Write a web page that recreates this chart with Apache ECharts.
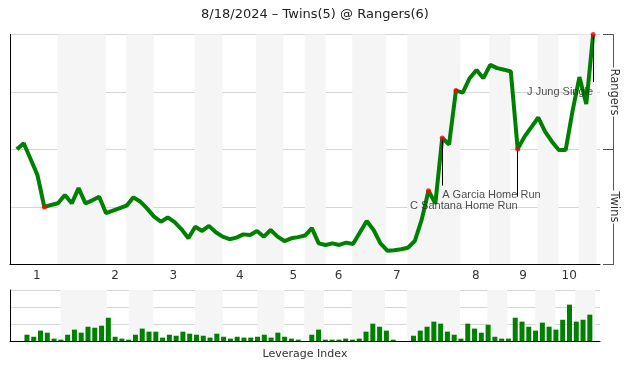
<!DOCTYPE html>
<html><head><meta charset="utf-8">
<script src="https://cdn.jsdelivr.net/npm/echarts@6/dist/echarts.min.js"></script>
<style>html,body{margin:0;padding:0;background:#fff}#c{width:630px;height:380px}</style>
</head><body><div id="c"></div>
<script>
// ---------- data ----------
const chartTitle = '8/18/2024 \u2013 Twins(5) @ Rangers(6)';

// Rangers win probability (%) after each play (index 0 = game start)
const winProb = [
  50.1, 52.7, 45.9, 38.9, 25.0, 25.9, 26.6, 30.2, 26.6, 33.2,
  26.6, 27.9, 29.5, 22.3, 23.4, 24.5, 25.6, 29.2, 27.3, 24.3,
  20.8, 18.6, 20.5, 18.4, 15.3, 11.4, 16.4, 14.6, 16.8, 14.0,
  12.1, 11.0, 11.7, 13.1, 12.8, 14.6, 12.1, 15.0, 12.1, 10.2,
  11.4, 11.9, 12.6, 15.8, 9.2, 8.5, 9.2, 8.5, 9.5, 8.9,
  13.9, 18.9, 15.0, 9.2, 6.0, 6.2, 6.6, 7.3, 10.2, 19.4,
  32.1, 26.5, 55.0, 52.2, 75.6, 74.7, 81.0, 84.6, 81.0, 86.8,
  85.4, 84.7, 83.9, 50.2, 55.6, 59.7, 63.9, 57.8, 53.4, 49.8,
  49.8, 66.8, 81.5, 69.8, 100
];

// Leverage index of each play (plays 1..84)
const leverage = [
  0.37, 0.25, 0.61, 0.49, 0.14, 0.08, 0.37, 0.67, 0.49, 0.84,
  0.78, 0.90, 1.37, 0.25, 0.14, 0.08, 0.37, 0.73, 0.55, 0.55,
  0.20, 0.37, 0.31, 0.55, 0.43, 0.37, 0.31, 0.20, 0.43, 0.25,
  0.14, 0.25, 0.20, 0.20, 0.25, 0.37, 0.20, 0.49, 0.25, 0.14,
  0.08, 0.00, 0.37, 0.67, 0.08, 0.08, 0.08, 0.14, 0.08, 0.14,
  0.55, 1.02, 0.84, 0.61, 0.08, 0.00, 0.00, 0.31, 0.61, 0.84,
  1.14, 1.02, 0.55, 0.37, 0.14, 1.02, 0.73, 0.49, 0.96, 0.25,
  0.14, 0.14, 1.37, 1.14, 0.84, 0.61, 1.08, 0.84, 0.67, 1.25,
  2.14, 1.14, 1.25, 1.55
];

const scoringPlays = [4, 60, 62, 64, 73, 84];

const annotationPlays = [62, 73, 84];
const annotationTexts = ['A Garcia Home Run', 'C Santana Home Run', 'J Jung Single'];
const annotationAlign = ['left', 'right', 'right'];

const inningLabels = ['1', '2', '3', '4', '5', '6', '7', '8', '9', '10'];
const inningLabelPos = [2.9, 14.3, 22.8, 32.5, 40.3, 46.9, 55.4, 66.9, 73.8, 80.5];

// bottom halves of innings (shaded), in play units of the top chart
const bottomHalfStart = [5.92, 15.95, 25.92, 34.86, 41.96, 48.89, 56.91, 68.86, 75.92, 81.89];
const bottomHalfEnd   = [12.95, 19.93, 29.95, 38.84, 45.02, 53.85, 64.64, 71.88, 78.92, 84.52];
// same, in the units of the leverage chart
const levHalfStart = [6.45, 16.5, 26.28, 35.46, 42.39, 49.38, 57.49, 69.38, 76.45, 82.35];
const levHalfEnd   = [13.26, 20.13, 30.36, 39.45, 45.30, 54.29, 65.35, 72.33, 79.40, 85.30];

const sideLabels = ['Twins', 'Rangers'];
const sideLabelPos = [25, 75];
const sideTickPos = [0, 50, 100];

// ---------- chart ----------
const FONT = 'DejaVu Sans';
const annLen = 20.7;
const bandColor = '#f5f5f5';
const gridColor = '#d6d6d6';

const topBands = bottomHalfStart.map((s, i) => [{ xAxis: s }, { xAxis: bottomHalfEnd[i] }]);
const levBands = levHalfStart.map((s, i) => [{ xAxis: s }, { xAxis: levHalfEnd[i] }]);

const chart = echarts.init(document.getElementById('c'), null, { renderer: 'canvas' });
chart.setOption({
  animation: false,
  backgroundColor: '#fff',
  title: {
    text: chartTitle, left: 'center', top: 8, padding: 0,
    textStyle: { fontFamily: FONT, fontSize: 13, fontWeight: 'normal', color: '#222' }
  },
  grid: [
    { left: 10, right: 30, top: 34.5, height: 230 },
    { left: 10, right: 30, top: 290, height: 51 }
  ],
  xAxis: [
    {
      type: 'value', gridIndex: 0, min: -1, max: 85,
      axisLine: { show: true, onZero: false, lineStyle: { color: '#000', width: 1 } },
      axisTick: { show: false }, splitLine: { show: false },
      axisLabel: {
        customValues: inningLabelPos,
        formatter: v => inningLabels[inningLabelPos.indexOf(v)] || '',
        fontFamily: FONT, fontSize: 12, color: '#333', margin: 5
      }
    },
    {
      type: 'value', gridIndex: 1, min: -1, max: 86,
      axisLine: { show: true, onZero: false, lineStyle: { color: '#000', width: 1 } },
      axisTick: { show: false }, splitLine: { show: false }, axisLabel: { show: false },
      name: 'Leverage Index', nameLocation: 'middle', nameGap: 8,
      nameTextStyle: { fontFamily: FONT, fontSize: 11, color: '#333' }
    }
  ],
  yAxis: [
    {
      type: 'value', gridIndex: 0, min: 0, max: 100, interval: 25,
      axisLine: { show: true, onZero: false, lineStyle: { color: '#000', width: 1 } },
      axisTick: { show: false }, axisLabel: { show: false },
      splitLine: { show: true, lineStyle: { color: gridColor, width: 1 } }
    },
    {
      type: 'value', gridIndex: 0, min: 0, max: 100, position: 'right', offset: 13,
      axisLine: { show: true, onZero: false, lineStyle: { color: '#555', width: 1 } },
      axisTick: { show: true, inside: true, length: 10, customValues: sideTickPos, lineStyle: { color: '#555' } },
      splitLine: { show: false },
      axisLabel: {
        customValues: sideLabelPos,
        formatter: v => sideLabels[sideLabelPos.indexOf(v)] || '',
        rotate: -90, margin: -6,
        fontFamily: FONT, fontSize: 11.5, color: '#333',
        backgroundColor: '#fff', padding: [1, 1]
      }
    },
    {
      type: 'value', gridIndex: 1, min: 0, max: 3, interval: 1,
      axisLine: { show: true, onZero: false, lineStyle: { color: '#000', width: 1 } },
      axisTick: { show: false }, axisLabel: { show: false },
      splitLine: { show: true, lineStyle: { color: gridColor, width: 1 } }
    }
  ],
  series: [
    {
      name: 'Win Probability', type: 'line', xAxisIndex: 0, yAxisIndex: 0,
      data: winProb.map((v, i) => [i, v]),
      showSymbol: false, symbol: 'none', z: 3,
      lineStyle: { color: '#008000', width: 4 },
      markArea: { silent: true, itemStyle: { color: bandColor }, data: topBands, z: 0 }
    },
    {
      name: 'Scoring', type: 'scatter', xAxisIndex: 0, yAxisIndex: 0, z: 6,
      data: scoringPlays.map(i => [i, winProb[i]]),
      symbol: 'circle', symbolSize: 5, itemStyle: { color: '#ff0000' }
    },
    {
      name: 'Notes', type: 'scatter', xAxisIndex: 0, yAxisIndex: 0, z: 7,
      symbolSize: 0, itemStyle: { color: 'rgba(0,0,0,0)' },
      data: annotationPlays.map((p, i) => ({
        value: [p, winProb[p] - annLen],
        label: { align: annotationAlign[i], formatter: annotationTexts[i] }
      })),
      label: {
        show: true, position: 'bottom', distance: 4,
        fontFamily: 'Liberation Sans', fontSize: 11, color: '#222'
      },
      markLine: {
        silent: true, symbol: ['none', 'none'], label: { show: false },
        lineStyle: { color: '#000', width: 1, type: 'solid' },
        data: annotationPlays.map(p => [{ coord: [p, winProb[p]] }, { coord: [p, winProb[p] - annLen] }])
      }
    },
    {
      name: 'Leverage', type: 'bar', xAxisIndex: 1, yAxisIndex: 2,
      data: leverage.map((v, i) => [i + 1.5, v]),
      barWidth: 5, itemStyle: { color: '#008000' },
      markArea: { silent: true, itemStyle: { color: bandColor }, data: levBands }
    }
  ]
});
</script>
</body></html>
